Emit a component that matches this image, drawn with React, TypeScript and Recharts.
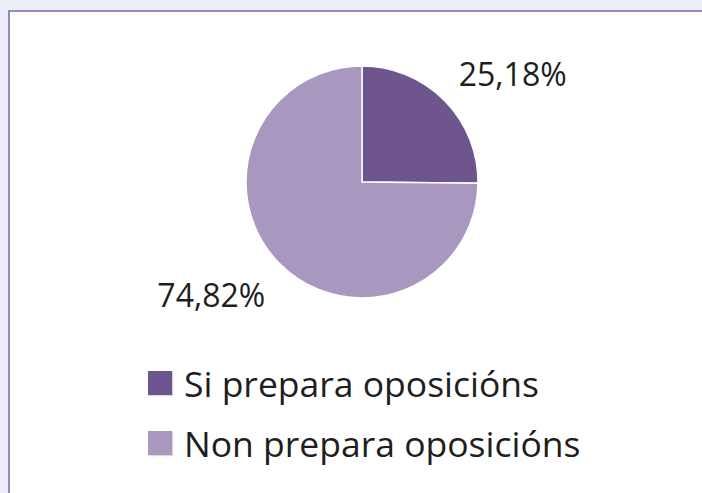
import { PieChart, Pie, Cell, Legend } from 'recharts'

const categories = ['Si prepara oposicións', 'Non prepara oposicións']
const shares = [25.18, 74.82]
const colors = ['#6e558e', '#a898bf']

const data = categories.map((name, i) => ({ name, value: shares[i] }))

const RADIAN = Math.PI / 180
const FONT = '"Open Sans", "Noto Sans", sans-serif'

function renderLabel(props: any) {
  const { cx, cy, midAngle, outerRadius, value } = props
  const r = outerRadius + 20
  const cos = Math.cos(-midAngle * RADIAN)
  const sin = Math.sin(-midAngle * RADIAN)
  const x = cx + r * cos
  const y = cy + r * sin
  return (
    <text
      x={x}
      y={sin > 0 ? y + 2 : y}
      textAnchor={cos >= 0 ? 'start' : 'end'}
      dominantBaseline={sin > 0 ? 'hanging' : 'auto'}
      fill="#1e1e1e"
      fontSize={32}
      fontFamily={FONT}
    >
      {value.toFixed(2).replace('.', ',')}%
    </text>
  )
}

function renderLegend(props: any) {
  const payload = [...(props.payload || [])].sort(
    (a: any, b: any) => categories.indexOf(a.value) - categories.indexOf(b.value)
  )
  return (
    <div>
      {payload.map((entry: any, i: number) => (
        <div key={`legend-${i}`} style={{ display: 'flex', alignItems: 'center', height: 60 }}>
          <span
            style={{
              display: 'inline-block',
              width: 24,
              height: 24,
              background: entry.color,
              marginRight: 12,
              boxShadow: '1px 1px 1px rgba(0,0,0,0.15)',
            }}
          />
          <span style={{ fontFamily: FONT, fontSize: 35.5, color: '#1e1e1e', lineHeight: '60px', whiteSpace: 'nowrap' }}>
            {entry.value}
          </span>
        </div>
      ))}
    </div>
  )
}

export default function App() {
  return (
    <div style={{ position: 'absolute', left: 0, top: 0, width: 702, height: 493, background: '#eceef8', overflow: 'hidden' }}>
      <style>{`html, body { overflow: hidden; }`}</style>
      <div
        style={{
          position: 'absolute',
          left: 8,
          top: 10,
          width: 720,
          height: 500,
          background: '#ffffff',
          borderTop: '2px solid #9a86c3',
          borderLeft: '2px solid #9a86c3',
          boxSizing: 'border-box',
        }}
      />
      <div style={{ position: 'absolute', left: 0, top: 0, width: 702, height: 493, overflow: 'hidden' }}>
        <PieChart width={702} height={493} margin={{ top: 0, right: 0, bottom: 0, left: 0 }}>
          <Pie
            data={data}
            dataKey="value"
            nameKey="name"
            cx={362}
            cy={182}
            outerRadius={116}
            startAngle={90}
            endAngle={-270}
            stroke="#ffffff"
            strokeWidth={1.5}
            label={renderLabel}
            labelLine={false}
            isAnimationActive={false}
          >
            {data.map((entry, index) => (
              <Cell key={`cell-${index}`} fill={colors[index]} />
            ))}
          </Pie>
          <Legend
            content={renderLegend}
            layout="vertical"
            wrapperStyle={{ position: 'absolute', left: 148, top: 353, width: 520, height: 120, overflow: 'hidden' }}
          />
        </PieChart>
      </div>
    </div>
  )
}
